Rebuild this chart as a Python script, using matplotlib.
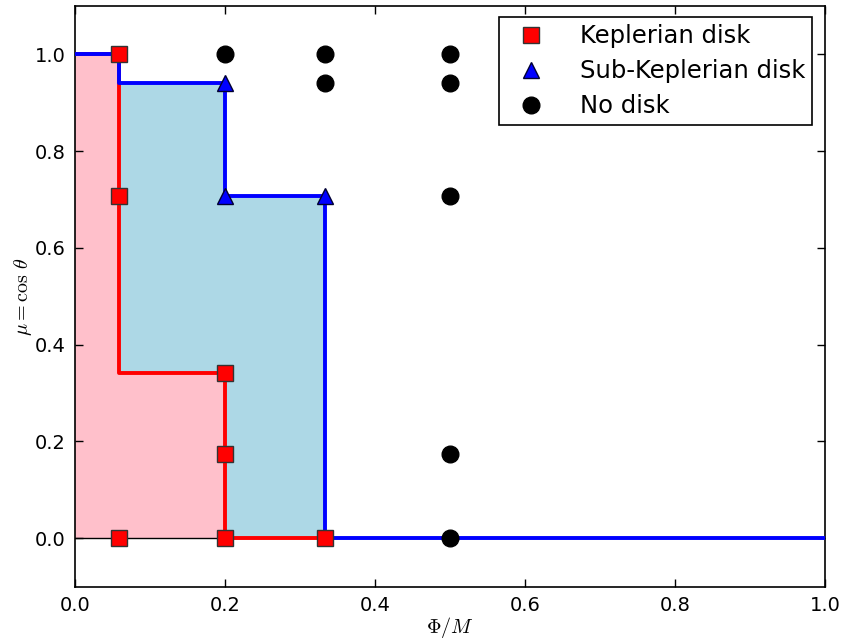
import matplotlib
matplotlib.use("Agg")
import matplotlib.pyplot as plt

# Data
kep_x = [0.0588, 0.0588, 0.0588, 0.2, 0.2, 0.2, 0.3333]
kep_y = [1.0, 0.707, 0.0, 0.342, 0.174, 0.0, 0.0]
sub_x = [0.2, 0.2, 0.3333]
sub_y = [0.94, 0.707, 0.707]
no_x = [0.2, 0.3333, 0.3333, 0.5, 0.5, 0.5, 0.5, 0.5]
no_y = [1.0, 1.0, 0.94, 1.0, 0.94, 0.707, 0.174, 0.0]

red_x = [0.0, 0.0588, 0.0588, 0.2, 0.2, 0.3333]
red_y = [1.0, 1.0, 0.342, 0.342, 0.0, 0.0]
blue_x = [0.0, 0.0588, 0.0588, 0.2, 0.2, 0.3333, 0.3333, 1.0]
blue_y = [1.0, 1.0, 0.94, 0.94, 0.707, 0.707, 0.0, 0.0]

plt.rcParams['mathtext.fontset'] = 'cm'
plt.rcParams['xtick.direction'] = 'in'
plt.rcParams['ytick.direction'] = 'in'
plt.rcParams['xtick.top'] = True
plt.rcParams['ytick.right'] = True

fig = plt.figure(figsize=(8.46, 6.41), dpi=100)
ax = fig.add_axes([75/846, 1 - 586.5/641, 750/846, 580.5/641])

ax.fill_between(blue_x, 0, blue_y, color='#add8e6', lw=0, zorder=1)
ax.fill_between(red_x, 0, red_y, color='#ffc0cb', lw=0, zorder=1.5)
ax.axhline(0, color='black', lw=1, zorder=2)
ax.plot(red_x, red_y, color='red', lw=2.8, zorder=3)
ax.plot(blue_x, blue_y, color='blue', lw=2.8, zorder=3.5)

ax.plot(kep_x, kep_y, 's', color='red', mec='#333333', mew=1, ms=12, zorder=5, label='Keplerian disk')
ax.plot(sub_x, sub_y, '^', color='blue', mec='#000033', mew=1, ms=12, zorder=5, label='Sub-Keplerian disk')
ax.plot(no_x, no_y, 'o', color='black', ms=12, zorder=5, label='No disk')

ax.set_xlim(0, 1)
ax.set_ylim(-0.1, 1.1)
ax.set_xticks([0.0, 0.2, 0.4, 0.6, 0.8, 1.0])
ax.set_yticks([0.0, 0.2, 0.4, 0.6, 0.8, 1.0])
ax.tick_params(labelsize=14, length=6, width=1, pad=7)
for s in ax.spines.values():
    s.set_linewidth(1.2)

ax.set_xlabel(r'$\Phi/M$', fontsize=14.5, labelpad=0)
ax.set_ylabel(r'$\mu=\cos\,\theta$', fontsize=14.5, labelpad=0)

leg = ax.legend(loc='upper right', numpoints=1, fontsize=17.5, fancybox=False,
                framealpha=1, edgecolor='black', borderpad=0.3, handletextpad=1.0,
                markerscale=1.0, labelspacing=0.45, borderaxespad=0,
                bbox_to_anchor=(0.983, 0.981))
leg.get_frame().set_linewidth(1.2)

fig.savefig('out.png', dpi=100)
